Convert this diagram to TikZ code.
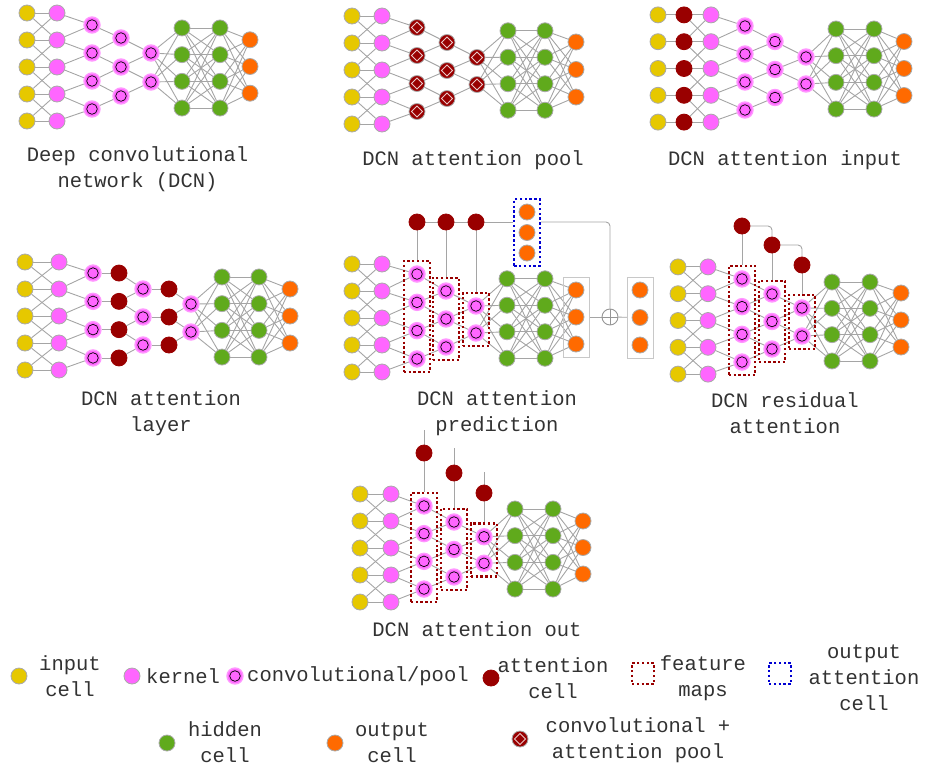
\documentclass[tikz,border=0pt]{standalone}
\usepackage{fontspec}
\newfontfamily\lblfont{Liberation Mono}
\usetikzlibrary{fit}
\pgfdeclarelayer{background}
\pgfsetlayers{background,main}
\definecolor{incol}{RGB}{230,200,0}
\definecolor{kercol}{RGB}{255,102,255}
\definecolor{kerring}{RGB}{255,150,255}
\definecolor{hidcol}{RGB}{96,170,28}
\definecolor{outcol}{RGB}{255,106,0}
\definecolor{attcol}{RGB}{153,0,0}
\definecolor{cellborder}{RGB}{170,170,170}
\definecolor{conncol}{RGB}{165,165,165}
\definecolor{fmapcol}{RGB}{153,0,0}
\definecolor{oattcol}{RGB}{0,0,210}
\definecolor{boxgray}{RGB}{200,200,200}
\definecolor{plusgray}{RGB}{150,150,150}
\definecolor{diamcol}{RGB}{235,200,200}
\definecolor{txtcol}{RGB}{50,50,50}
\tikzset{
  cell/.style={circle,minimum size=16pt,inner sep=0pt,draw=cellborder,line width=0.8pt},
  incell/.style={cell,fill=incol},
  kercell/.style={cell,fill=kercol},
  hidcell/.style={cell,fill=hidcol},
  outcell/.style={cell,fill=outcol},
  attcell/.style={cell,fill=attcol,draw=attcol},
  convcell/.style={circle,minimum size=16pt,inner sep=0pt,fill=kercol,draw=kerring,line width=1.4pt,
    path picture={\draw[black,line width=0.7pt] (path picture bounding box.center) circle (5.3pt);}},
  poolcell/.style={cell,fill=attcol,
    path picture={\draw[diamcol,line width=0.8pt] (path picture bounding box.center) ++(0,5.5pt) -- ++(5.5pt,-5.5pt) -- ++(-5.5pt,-5.5pt) -- ++(-5.5pt,5.5pt) -- cycle;}},
  conn/.style={draw=conncol,line width=0.9pt},
  fmap/.style={draw=fmapcol,line width=2.4pt,dash pattern=on 2.4pt off 2.4pt,inner sep=4.5pt},
  oattbox/.style={draw=oattcol,line width=2.4pt,dash pattern=on 2.4pt off 2.4pt,inner sep=4.5pt},
  graybox/.style={draw=boxgray,line width=0.7pt,inner sep=4.5pt},
  plusnode/.style={circle,minimum size=16pt,inner sep=0pt,draw=plusgray,line width=0.9pt,fill=white,
    path picture={\draw[plusgray,line width=0.9pt] (path picture bounding box.north) -- (path picture bounding box.south) (path picture bounding box.west) -- (path picture bounding box.east);}},
  lbl/.style={font=\lblfont\fontsize{20.5}{26}\selectfont,text=txtcol,inner sep=0pt,align=center},
}
% layer of cells: prefix, x, centre y, count, spacing, style
\newcommand\mklayer[6]{\foreach \k in {1,...,#4}{\node[#6] (#1\k) at (#2,{#3+(\k-(#4+1)/2)*#5}) {};}}
\newcommand\fullconn[4]{\foreach \ia in {1,...,#2}{\foreach \jb in {1,...,#4}{\draw[conn] (#1\ia) -- (#3\jb);}}}
\newcommand\onecon[3]{\foreach \ia in {1,...,#3}{\draw[conn] (#1\ia) -- (#2\ia);}}
\newcommand\crossconn[3]{\onecon{#1}{#2}{#3}\foreach \ia in {2,...,#3}{\pgfmathtruncatemacro\ib{\ia-1}\draw[conn] (#1\ia) -- (#2\ib);\draw[conn] (#1\ib) -- (#2\ia);}}
\newcommand\poolconn[3]{\foreach \ia in {1,...,#3}{\pgfmathtruncatemacro\ib{\ia+1}\draw[conn] (#1\ia) -- (#2\ia);\draw[conn] (#1\ib) -- (#2\ia);}}
\begin{document}
\begin{tikzpicture}[x=1pt,y=-1pt]
\useasboundingbox (0,0) rectangle (927,766);
% ---------------- Panel 1: DCN
\mklayer{p1in}{27}{67}{5}{27}{incell}
\mklayer{p1ke}{57}{67}{5}{27}{kercell}
\mklayer{p1ca}{92}{67}{4}{28}{convcell}
\mklayer{p1cb}{121}{67}{3}{29}{convcell}
\mklayer{p1cc}{151}{67.5}{2}{29}{convcell}
\mklayer{p1ha}{182}{68}{4}{26.7}{hidcell}
\mklayer{p1hb}{220}{68}{4}{26.7}{hidcell}
\mklayer{p1ou}{250}{66.5}{3}{26.7}{outcell}
\begin{pgfonlayer}{background}
\crossconn{p1in}{p1ke}{5}
\poolconn{p1ke}{p1ca}{4}
\poolconn{p1ca}{p1cb}{3}
\poolconn{p1cb}{p1cc}{2}
\fullconn{p1cc}{2}{p1ha}{4}
\fullconn{p1ha}{4}{p1hb}{4}
\fullconn{p1hb}{4}{p1ou}{3}
\end{pgfonlayer}
\node[lbl] (t1) at (137.5,169) {Deep convolutional\\network (DCN)};
% ---------------- Panel 2: DCN attention pool
\mklayer{p2in}{352}{70}{5}{27}{incell}
\mklayer{p2ke}{382}{70}{5}{27}{kercell}
\mklayer{p2ca}{417}{69.5}{4}{28}{poolcell}
\mklayer{p2cb}{447}{70.5}{3}{28}{poolcell}
\mklayer{p2cc}{477}{71}{2}{27}{poolcell}
\mklayer{p2ha}{508}{70.5}{4}{26.5}{hidcell}
\mklayer{p2hb}{545}{70.5}{4}{26.5}{hidcell}
\mklayer{p2ou}{576}{69.5}{3}{27.5}{outcell}
\begin{pgfonlayer}{background}
\crossconn{p2in}{p2ke}{5}
\poolconn{p2ke}{p2ca}{4}
\poolconn{p2ca}{p2cb}{3}
\poolconn{p2cb}{p2cc}{2}
\fullconn{p2cc}{2}{p2ha}{4}
\fullconn{p2ha}{4}{p2hb}{4}
\fullconn{p2hb}{4}{p2ou}{3}
\end{pgfonlayer}
\node[lbl] (t2) at (473,160.5) {DCN attention pool};
% ---------------- Panel 3: DCN attention input
\mklayer{p3in}{658}{68.5}{5}{26.8}{incell}
\mklayer{p3at}{684}{68.5}{5}{26.8}{attcell}
\mklayer{p3ke}{711}{68.5}{5}{26.8}{kercell}
\mklayer{p3ca}{745}{68}{4}{28}{convcell}
\mklayer{p3cb}{775}{69.5}{3}{28}{convcell}
\mklayer{p3cc}{806}{70.5}{2}{27}{convcell}
\mklayer{p3ha}{836}{69}{4}{26.7}{hidcell}
\mklayer{p3hb}{874}{69}{4}{26.7}{hidcell}
\mklayer{p3ou}{904}{68.5}{3}{27}{outcell}
\begin{pgfonlayer}{background}
\onecon{p3in}{p3at}{5}
\crossconn{p3at}{p3ke}{5}
\poolconn{p3ke}{p3ca}{4}
\poolconn{p3ca}{p3cb}{3}
\poolconn{p3cb}{p3cc}{2}
\fullconn{p3cc}{2}{p3ha}{4}
\fullconn{p3ha}{4}{p3hb}{4}
\fullconn{p3hb}{4}{p3ou}{3}
\end{pgfonlayer}
\node[lbl] (t3) at (785,160.5) {DCN attention input};
% ---------------- Panel 4: DCN attention layer
\mklayer{p4in}{25}{316}{5}{27}{incell}
\mklayer{p4ke}{59}{316}{5}{27}{kercell}
\mklayer{p4ca}{93}{315.5}{4}{28.3}{convcell}
\mklayer{p4aa}{119}{315.5}{4}{28.3}{attcell}
\mklayer{p4cb}{143}{317}{3}{28}{convcell}
\mklayer{p4ab}{169}{317}{3}{28}{attcell}
\mklayer{p4cc}{191}{318}{2}{28}{convcell}
\mklayer{p4ha}{222}{317}{4}{26.7}{hidcell}
\mklayer{p4hb}{259}{317}{4}{26.7}{hidcell}
\mklayer{p4ou}{290}{316}{3}{27}{outcell}
\begin{pgfonlayer}{background}
\crossconn{p4in}{p4ke}{5}
\poolconn{p4ke}{p4ca}{4}
\onecon{p4ca}{p4aa}{4}
\poolconn{p4aa}{p4cb}{3}
\onecon{p4cb}{p4ab}{3}
\poolconn{p4ab}{p4cc}{2}
\fullconn{p4cc}{2}{p4ha}{4}
\fullconn{p4ha}{4}{p4hb}{4}
\fullconn{p4hb}{4}{p4ou}{3}
\end{pgfonlayer}
\node[lbl] (t4) at (161,413.5) {DCN attention\\layer};
% ---------------- Panel 5: DCN attention prediction
\mklayer{p5in}{352}{318}{5}{27}{incell}
\mklayer{p5ke}{382}{318}{5}{27}{kercell}
\mklayer{p5ca}{417}{316.5}{4}{28.3}{convcell}
\mklayer{p5cb}{446}{319}{3}{28}{convcell}
\mklayer{p5cc}{476}{319.5}{2}{27}{convcell}
\mklayer{p5ha}{507}{318.5}{4}{26.5}{hidcell}
\mklayer{p5hb}{545}{318.5}{4}{26.5}{hidcell}
\mklayer{p5ou}{576}{317}{3}{27}{outcell}
\mklayer{p5oa}{527}{232.5}{3}{20.5}{outcell}
\mklayer{p5fo}{640}{317.5}{3}{27.5}{outcell}
\node[attcell] (p5at1) at (417,222) {};
\node[attcell] (p5at2) at (446,222) {};
\node[attcell] (p5at3) at (476,222) {};
\node[fmap,fit=(p5ca1)(p5ca4)] (p5f1) {};
\node[fmap,fit=(p5cb1)(p5cb3)] (p5f2) {};
\node[fmap,fit=(p5cc1)(p5cc2)] (p5f3) {};
\node[oattbox,fit=(p5oa1)(p5oa3)] (p5ob) {};
\node[graybox,fit=(p5ou1)(p5ou3)] (p5gb) {};
\node[graybox,fit=(p5fo1)(p5fo3)] (p5fb) {};
\node[plusnode] (p5plus) at (610,317) {};
\begin{pgfonlayer}{background}
\crossconn{p5in}{p5ke}{5}
\poolconn{p5ke}{p5ca}{4}
\poolconn{p5ca}{p5cb}{3}
\poolconn{p5cb}{p5cc}{2}
\fullconn{p5cc}{2}{p5ha}{4}
\fullconn{p5ha}{4}{p5hb}{4}
\fullconn{p5hb}{4}{p5ou}{3}
\draw[conn] (p5at1) -- (p5at2);
\draw[conn] (p5at2) -- (p5at3);
\draw[conn] (p5at3) -- (p5at3 -| p5ob.west);
\draw[conn,rounded corners=4pt] (p5at3 -| p5ob.east) -| (p5plus);
\draw[conn] (p5at1) -- (p5f1.north);
\draw[conn] (p5at2) -- (p5f2.north);
\draw[conn] (p5at3) -- (p5f3.north);
\draw[conn] (p5gb) -- (p5plus);
\draw[conn] (p5plus) -- (p5fb);
\end{pgfonlayer}
\node[lbl] (t5) at (497,413.5) {DCN attention\\prediction};
% ---------------- Panel 6: DCN residual attention
\mklayer{p6in}{678}{320.5}{5}{26.8}{incell}
\mklayer{p6ke}{708}{320.5}{5}{26.8}{kercell}
\mklayer{p6ca}{742}{320.5}{4}{27.7}{convcell}
\mklayer{p6cb}{772}{321.5}{3}{27.5}{convcell}
\mklayer{p6cc}{802}{322}{2}{28}{convcell}
\mklayer{p6ha}{832}{321.5}{4}{26.3}{hidcell}
\mklayer{p6hb}{870}{321.5}{4}{26.3}{hidcell}
\mklayer{p6ou}{901}{320}{3}{27}{outcell}
\node[attcell] (p6at1) at (742,226) {};
\node[attcell] (p6at2) at (772,245) {};
\node[attcell] (p6at3) at (802,265) {};
\node[fmap,fit=(p6ca1)(p6ca4)] (p6f1) {};
\node[fmap,fit=(p6cb1)(p6cb3)] (p6f2) {};
\node[fmap,fit=(p6cc1)(p6cc2)] (p6f3) {};
\begin{pgfonlayer}{background}
\crossconn{p6in}{p6ke}{5}
\poolconn{p6ke}{p6ca}{4}
\poolconn{p6ca}{p6cb}{3}
\poolconn{p6cb}{p6cc}{2}
\fullconn{p6cc}{2}{p6ha}{4}
\fullconn{p6ha}{4}{p6hb}{4}
\fullconn{p6hb}{4}{p6ou}{3}
\draw[conn] (p6at1) -- (p6f1.north);
\draw[conn] (p6at2) -- (p6f2.north);
\draw[conn] (p6at3) -- (p6f3.north);
\draw[conn,rounded corners=4pt] (p6at1) -| (p6at2);
\draw[conn,rounded corners=4pt] (p6at2) -| (p6at3);
\end{pgfonlayer}
\node[lbl] (t6) at (785,413.5) {DCN residual\\attention};
% ---------------- Panel 7: DCN attention out
\mklayer{p7in}{360}{548}{5}{27}{incell}
\mklayer{p7ke}{391}{548}{5}{27}{kercell}
\mklayer{p7ca}{424}{547.5}{4}{27.7}{convcell}
\mklayer{p7cb}{454}{549.5}{3}{27.5}{convcell}
\mklayer{p7cc}{484}{550}{2}{26.5}{convcell}
\mklayer{p7ha}{515}{549}{4}{26.7}{hidcell}
\mklayer{p7hb}{553}{549}{4}{26.7}{hidcell}
\mklayer{p7ou}{583}{547.5}{3}{26.5}{outcell}
\node[attcell] (p7at1) at (424,453) {};
\node[attcell] (p7at2) at (454,473) {};
\node[attcell] (p7at3) at (484,493) {};
\coordinate (p7t1) at (424,430);
\coordinate (p7t2) at (454,448);
\coordinate (p7t3) at (484,472);
\node[fmap,fit=(p7ca1)(p7ca4)] (p7f1) {};
\node[fmap,fit=(p7cb1)(p7cb3)] (p7f2) {};
\node[fmap,fit=(p7cc1)(p7cc2)] (p7f3) {};
\begin{pgfonlayer}{background}
\crossconn{p7in}{p7ke}{5}
\poolconn{p7ke}{p7ca}{4}
\poolconn{p7ca}{p7cb}{3}
\poolconn{p7cb}{p7cc}{2}
\fullconn{p7cc}{2}{p7ha}{4}
\fullconn{p7ha}{4}{p7hb}{4}
\fullconn{p7hb}{4}{p7ou}{3}
\draw[conn] (p7t1) -- (p7at1);
\draw[conn] (p7t2) -- (p7at2);
\draw[conn] (p7t3) -- (p7at3);
\draw[conn] (p7at1) -- (p7f1.north);
\draw[conn] (p7at2) -- (p7f2.north);
\draw[conn] (p7at3) -- (p7f3.north);
\end{pgfonlayer}
\node[lbl] (t7) at (477,629.5) {DCN attention out};
% ---------------- Legend
\node[incell] (lgin) at (19,676) {};
\node[lbl] (lgint) at (70,676.5) {input\\cell};
\node[kercell] (lgke) at (132,676) {};
\node[lbl,anchor=west] (lgket) at (146,676) {kernel};
\node[convcell] (lgcv) at (235,676) {};
\node[lbl,anchor=west] (lgcvt) at (247,676) {convolutional/pool};
\node[attcell] (lgat) at (491,678) {};
\node[lbl] (lgatt) at (553,678.5) {attention\\cell};
\node[fmap,minimum width=22pt,minimum height=21pt,inner sep=0pt] (lgfm) at (643,673.5) {};
\node[lbl] (lgfmt) at (703,678.5) {feature\\maps};
\node[oattbox,minimum width=22pt,minimum height=21pt,inner sep=0pt] (lgoa) at (780,673.5) {};
\node[lbl] (lgoat) at (864,677.5) {output\\attention\\cell};
\node[poolcell] (lgpc) at (520,739) {};
\node[lbl] (lgpct) at (638,740.5) {convolutional +\\attention pool};
\node[hidcell] (lghd) at (167,743) {};
\node[lbl] (lghdt) at (225,742.5) {hidden\\cell};
\node[outcell] (lgou) at (335,743) {};
\node[lbl] (lgout) at (392,742.5) {output\\cell};
\end{tikzpicture}
\end{document}
